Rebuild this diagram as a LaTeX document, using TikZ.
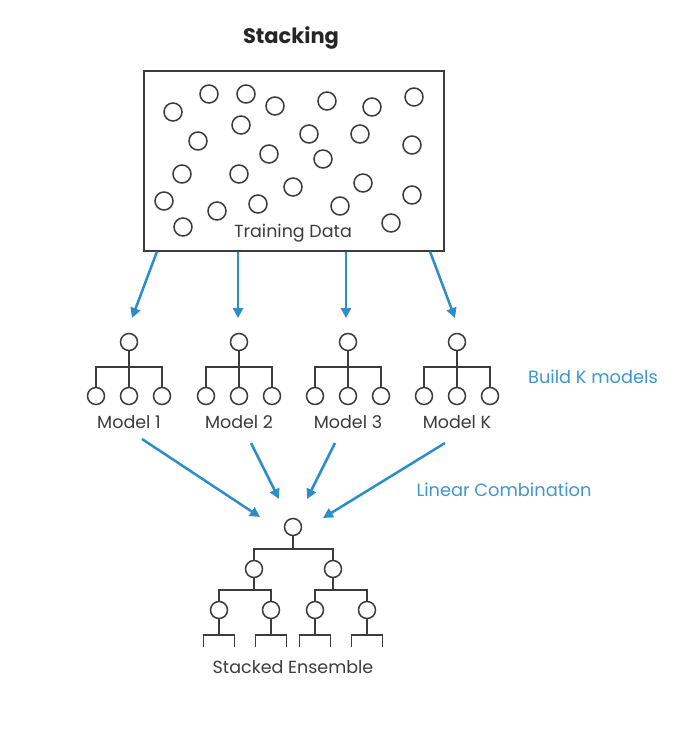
\documentclass[tikz,border=0pt]{standalone}
\usepackage{fontspec}
\setmainfont{Poppins}
\usetikzlibrary{arrows.meta,calc}
\definecolor{ink}{HTML}{3C3C3C}
\definecolor{blu}{HTML}{2C8DCB}
\definecolor{note}{HTML}{3E97D1}
\begin{document}
\begin{tikzpicture}[x=1pt,y=-1pt,
  dot/.style={circle,draw=ink,line width=1.5pt,minimum size=17pt,inner sep=0pt},
  tree/.style={draw=ink,line width=1.5pt},
  flow/.style={draw=blu,line width=2.5pt,-{Triangle[length=10pt,width=10pt]}},
  lbl/.style={text=ink,font=\fontsize{17.5}{20}\selectfont,inner sep=0pt},
  notetext/.style={text=note,font=\fontsize{17.8}{20}\selectfont,inner sep=0pt}]
\useasboundingbox (0,0) rectangle (686,734);
\fill[white] (0,0) rectangle (686,734);
% title
\node[font=\bfseries\fontsize{21}{25}\selectfont,text=black!85,inner sep=0pt] (title) at (291,38) {Stacking};
% training data box
\node[draw=ink,line width=1.5pt,minimum width=300pt,minimum height=180pt,inner sep=0pt,anchor=north west] (data) at (143,70) {};
\foreach \n/\x/\y in {1/173/112,2/209/94,3/246/94,4/275/106,5/327/101,6/372/107,7/414/97,
  8/198/141,9/241/125,10/309/134,11/360/134,12/412/145,13/269/154,14/323/159,
  15/182/174,16/239/174,17/293/187,18/363/183,19/164/201,20/217/211,21/258/204,
  22/340/206,23/412/195,24/183/227,25/391/223}
  \node[dot,minimum size=18pt] (d\n) at (\x,\y) {};
\node[lbl] (tdlabel) at (293,233) {Training Data};
% models
\foreach \i/\x/\t in {1/129/Model 1,2/239/Model 2,3/348/Model 3,4/457/Model K}{
  \node[dot] (m\i-t) at (\x,342) {};
  \node[dot] (m\i-a) at (\x-33,396) {};
  \node[dot] (m\i-b) at (\x,396) {};
  \node[dot] (m\i-c) at (\x+33,396) {};
  \coordinate (m\i-bar) at (\x,367);
  \draw[tree] (m\i-t) -- (m\i-b);
  \draw[tree] (m\i-a) -- (m\i-a |- m\i-bar) -- (m\i-c |- m\i-bar) -- (m\i-c);
  \node[lbl] (m\i-l) at (\x,422) {\t};
}
\node[notetext] (build) at (593,377) {Build K models};
\node[notetext] (linear) at (504,490) {Linear Combination};
% arrows from data to models
\coordinate (t1) at (132,318);
\coordinate (t2) at (238,318);
\coordinate (t3) at (346,318);
\coordinate (t4) at (455,318);
\draw[flow] ($(data.south west)+(14,0)$) -- (t1);
\draw[flow] ($(data.south west)+(95,0)$) -- (t2);
\draw[flow] ($(data.south west)+(203,0)$) -- (t3);
\draw[flow] ($(data.south west)+(287,0)$) -- (t4);
% arrows from models to ensemble
\coordinate (u1) at (142,439);
\coordinate (u2) at (251,443);
\coordinate (u3) at (335,443);
\coordinate (u4) at (445,443);
\coordinate (v1) at (260,517);
\coordinate (v2) at (279,499);
\coordinate (v3) at (307,499);
\coordinate (v4) at (323,518);
\foreach \k in {1,2,3,4} \draw[flow] (u\k) -- (v\k);
% ensemble tree
\node[dot] (e0) at (293,527) {};
\node[dot] (e1) at (254,569) {};
\node[dot] (e2) at (333,569) {};
\node[dot] (e11) at (219,610) {};
\node[dot] (e12) at (271,610) {};
\node[dot] (e21) at (315,610) {};
\node[dot] (e22) at (367,610) {};
\coordinate (eb0) at (293,549);
\coordinate (eb1) at (254,590);
\coordinate (eb2) at (333,590);
\draw[tree] (e0) -- (eb0);
\draw[tree] (e1) -- (e1 |- eb0) -- (e2 |- eb0) -- (e2);
\draw[tree] (e1) -- (eb1);
\draw[tree] (e2) -- (eb2);
\draw[tree] (e11) -- (e11 |- eb1) -- (e12 |- eb1) -- (e12);
\draw[tree] (e21) -- (e21 |- eb2) -- (e22 |- eb2) -- (e22);
\foreach \e/\x in {11/219,12/271,21/315,22/367}{
  \coordinate (lf\e) at (\x,635);
  \draw[tree] (e\e) -- (lf\e);
  \draw[tree] ($(lf\e)+(-15.5,12)$) -- ($(lf\e)+(-15.5,0)$) -- ($(lf\e)+(15.5,0)$) -- ($(lf\e)+(15.5,12)$);
}
\node[lbl] (enslabel) at (293,667) {Stacked Ensemble};
\end{tikzpicture}
\end{document}
